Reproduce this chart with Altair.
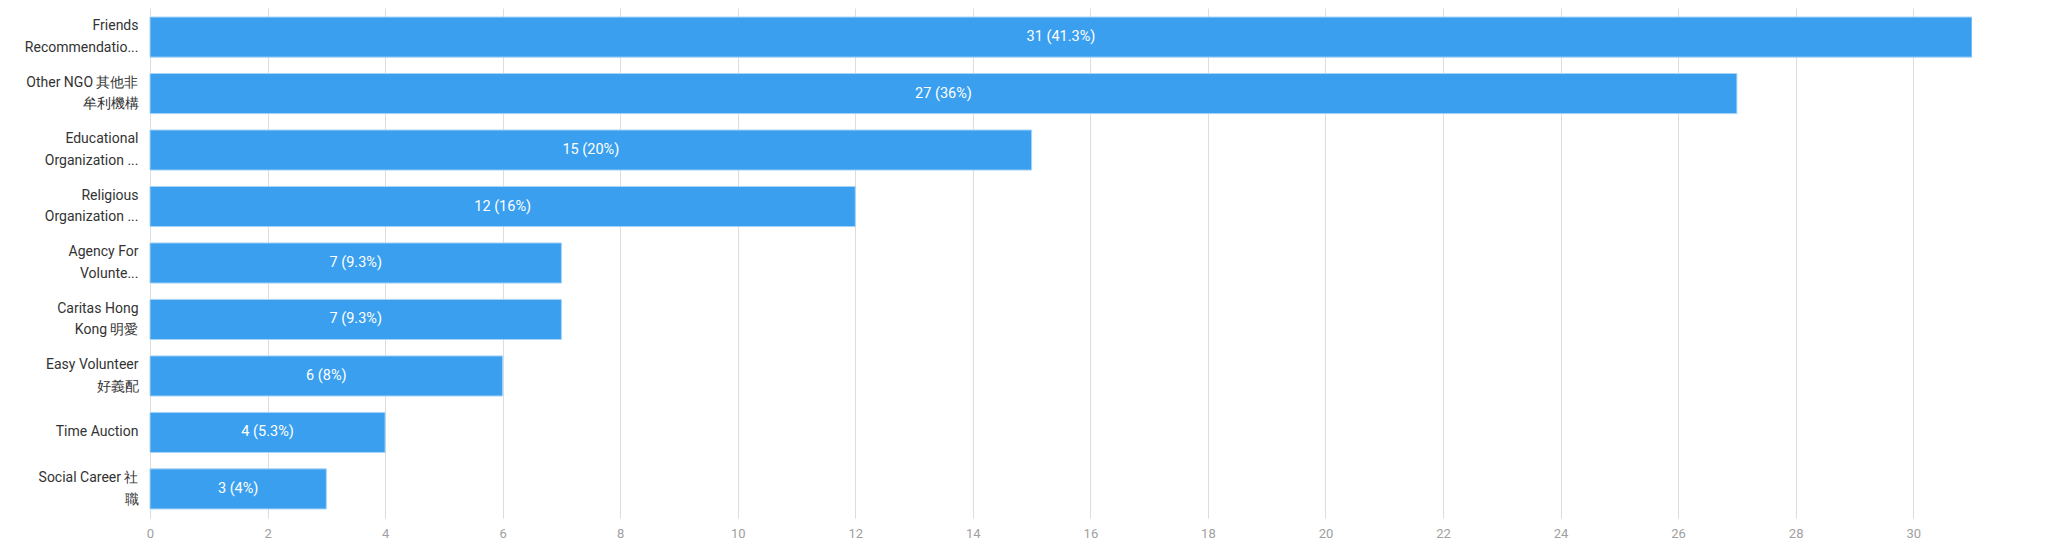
import altair as alt
import pandas as pd

categories = [
    "Friends\nRecommendatio...",
    "Other NGO 其他非\n牟利機構",
    "Educational\nOrganization ...",
    "Religious\nOrganization ...",
    "Agency For\nVolunte...",
    "Caritas Hong\nKong 明愛",
    "Easy Volunteer \n好義配",
    "Time Auction",
    "Social Career 社\n職",
]
counts = [31, 27, 15, 12, 7, 7, 6, 4, 3]
bar_labels = [
    "31 (41.3%)", "27 (36%)", "15 (20%)", "12 (16%)", "7 (9.3%)",
    "7 (9.3%)", "6 (8%)", "4 (5.3%)", "3 (4%)",
]
x_ticks = list(range(0, 31, 2))

df = pd.DataFrame({"cat": categories, "count": counts, "label": bar_labels})

FONT = "Roboto"
LINE_H = 21.5

y_enc = alt.Y(
    "cat:N",
    sort=categories,
    scale=alt.Scale(paddingInner=0.29, paddingOuter=0.16),
    axis=alt.Axis(
        title=None,
        domain=False,
        ticks=False,
        labelPadding=12,
        labelFont=FONT,
        labelFontSize=14,
        labelColor="#333333",
        labelLineHeight=LINE_H,
        labelBaseline="middle",
        labelOffset={
            "condition": {"test": "indexof(datum.label, '\\n') >= 0", "value": -LINE_H / 2},
            "value": 0,
        },
        labelLimit=0,
        labelExpr="split(datum.label, '\\n')",
    ),
)

x_enc = alt.X(
    "count:Q",
    scale=alt.Scale(domain=[0, 31], nice=False),
    axis=alt.Axis(
        title=None,
        values=x_ticks,
        format="d",
        domain=False,
        ticks=False,
        grid=True,
        gridColor="#dddddd",
        labelFont=FONT,
        labelFontSize=13,
        labelColor="#a0a0a0",
        labelPadding=9,
        labelFlush=False,
    ),
)

bars = alt.Chart(df).mark_bar(
    color="#3a9fee", stroke="#a8d4f7", strokeWidth=1
).encode(x=x_enc, y=y_enc)

texts = alt.Chart(df).transform_calculate(
    mid="datum.count / 2"
).mark_text(
    color="white", font=FONT, fontSize=14.5, align="center", baseline="middle"
).encode(
    x=alt.X("mid:Q"),
    y=alt.Y("cat:N", sort=categories),
    text="label:N",
)

chart = alt.layer(bars, texts).properties(
    width=1822,
    height=510,
    autosize=alt.AutoSizeParams(type="none"),
    padding={"left": 142, "top": 0, "right": 0, "bottom": 27},
).configure_view(stroke=None)

chart.save("out.html", embed_options={"renderer": "svg", "actions": False})
